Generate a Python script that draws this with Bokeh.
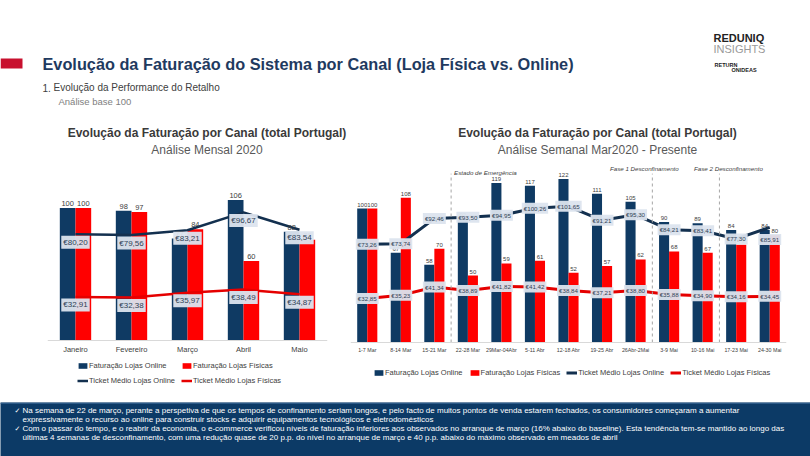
from bokeh.plotting import figure
from bokeh.models import Range1d, ColumnDataSource, Legend, LegendItem, FixedTicker
from bokeh.layouts import column, row
from bokeh.transform import dodge
from bokeh.embed import file_html
from bokeh.resources import INLINE
from bokeh.core.properties import value

# ---------------- data ----------------
months = ["Janeiro", "Fevereiro", "Março", "Abril", "Maio"]
m_fat_online = [100, 98, 77, 106, 82]
m_fat_fisicas = [100, 97, 84, 60, 76]
m_ticket_online = [80.20, 79.56, 83.21, 96.67, 83.54]
m_ticket_fisicas = [32.91, 32.38, 35.97, 38.49, 34.87]

weeks = ["1-7 Mar", "8-14 Mar", "15-21 Mar", "22-28 Mar", "29Mar-04Abr", "5-11 Abr",
         "12-18 Abr", "19-25 Abr", "26Abr-2Mai", "3-9 Mai", "10-16 Mai", "17-23 Mai", "24-30 Mai"]
w_fat_online = [100, 67, 58, 92, 119, 117, 122, 111, 105, 90, 89, 84, 84]
w_fat_fisicas = [100, 108, 70, 50, 59, 61, 52, 57, 62, 68, 67, 73, 80]
w_ticket_online = [73.26, 73.74, 92.46, 93.50, 94.95, 100.26, 101.65, 91.21, 95.30, 84.21, 83.41, 77.30, 85.91]
w_ticket_fisicas = [32.85, 35.23, 41.34, 38.89, 41.82, 41.42, 38.84, 37.21, 38.80, 35.88, 34.90, 34.16, 34.45]

phase_starts = ["22-28 Mar", "3-9 Mai", "17-23 Mai"]
phase_names = ["Estado de Emergência", "Fase 1 Desconfinamento", "Fase 2 Desconfinamento"]

series_names = ["Faturação Lojas Online", "Faturação Lojas Físicas",
                "Ticket Médio Lojas Online", "Ticket Médio Lojas Físicas"]

slide_title = "Evolução da Faturação do Sistema por Canal (Loja Física vs. Online)"
section = "Evolução da Performance do Retalho"
section_note = "Análise base 100"
chart_title = "Evolução da Faturação por Canal (total Portugal)"
left_subtitle = "Análise Mensal 2020"
right_subtitle = "Análise Semanal Mar2020 - Presente"
notes = [
    ("✓", "Na semana de 22 de março, perante a perspetiva de que os tempos de confinamento seriam longos, e pelo facto de muitos pontos de venda estarem fechados, os consumidores começaram a aumentar"),
    ("", "expressivamente o recurso ao online para construir stocks e adquirir equipamentos tecnológicos e eletrodomésticos"),
    ("✓", "Com o passar do tempo, e o reabrir da economia, o e-commerce verificou níveis de faturação inferiores aos observados no arranque de março (16% abaixo do baseline). Esta tendência tem-se mantido ao longo das"),
    ("", "últimas 4 semanas de desconfinamento, com uma redução quase de 20 p.p. do nível no arranque de março e 40 p.p. abaixo do máximo observado em meados de abril"),
]

# ---------------- style ----------------
FONT = "Liberation Sans"
NAVY = "#0f3a63"
RED = "#ff0000"
LNAVY = "#13304f"
LRED = "#e50000"
BOX = "#dce4ee"
TXT = "#404040"
FOOT = "#0c3a66"


def eur(v):
    return "€" + f"{v:.2f}".replace(".", ",")


def make_chart(cats, fo, ff, to, tf, width, height, bl, br, base_px, px_per_unit,
               bar_w, cat_fs, val_fs, tick_fs, tick_dy, line_w, leg_loc, leg_cols,
               nudges=None, bb=16):
    """base_px: distance in pixels from figure top to the bars' baseline."""
    nudges = nudges or {}
    n = len(cats)
    idx = list(range(n))
    frame_h = height - bb
    y_end = base_px / px_per_unit
    y_start = -(frame_h - base_px) / px_per_unit
    src = ColumnDataSource(dict(
        x=idx, fo=fo, ff=ff, to=to, tf=tf,
        fo_l=[str(v) for v in fo], ff_l=[str(v) for v in ff],
        to_l=[eur(v) for v in to], tf_l=[eur(v) for v in tf],
        to_dy=[tick_dy + nudges.get(c, 0) for c in cats],
    ))
    p = figure(width=width, height=height, x_range=Range1d(-0.5, n - 0.5),
               y_range=Range1d(y_start, y_end),
               output_backend="svg", toolbar_location=None,
               min_border_left=bl, min_border_right=br, min_border_top=0, min_border_bottom=bb,
               outline_line_color=None)
    p.grid.visible = False
    p.yaxis.visible = False
    ax = p.xaxis[0]
    ax.fixed_location = 0
    ax.ticker = FixedTicker(ticks=idx)
    ax.major_label_overrides = {i: c for i, c in enumerate(cats)}
    ax.major_tick_line_color = None
    ax.minor_tick_line_color = None
    ax.major_tick_out = 0
    ax.major_tick_in = 0
    ax.axis_line_color = "#d9d9d9"
    ax.major_label_text_font = FONT
    ax.major_label_text_font_size = cat_fs
    ax.major_label_text_color = TXT
    ax.major_label_standoff = 4

    r_fo = p.vbar(x=dodge('x', -bar_w / 2), top='fo', width=bar_w, source=src,
                  fill_color=NAVY, line_color=None)
    r_ff = p.vbar(x=dodge('x', bar_w / 2), top='ff', width=bar_w, source=src,
                  fill_color=RED, line_color=None)
    r_to = p.line('x', 'to', source=src, line_color=LNAVY, line_width=line_w)
    r_tf = p.line('x', 'tf', source=src, line_color=LRED, line_width=line_w)

    for xcol, ycol, tcol in ((dodge('x', -bar_w / 2), 'fo', 'fo_l'), (dodge('x', bar_w / 2), 'ff', 'ff_l')):
        p.text(x=xcol, y=ycol, text=tcol, source=src, text_align='center', text_baseline='bottom',
               y_offset=-2, text_font=value(FONT), text_font_size=val_fs, text_color=TXT)
    p.text(x='x', y='to', text='to_l', source=src, text_align='center', text_baseline='middle',
           y_offset='to_dy', text_font=value(FONT), text_font_size=tick_fs, text_color="#2f3f55",
           background_fill_color=BOX, background_fill_alpha=0.95, padding=2)
    p.text(x='x', y='tf', text='tf_l', source=src, text_align='center', text_baseline='middle',
           y_offset=tick_dy, text_font=value(FONT), text_font_size=tick_fs, text_color="#2f3f55",
           background_fill_color=BOX, background_fill_alpha=0.95, padding=2)

    leg = Legend(items=[LegendItem(label=series_names[i], renderers=[r])
                        for i, r in enumerate([r_fo, r_ff, r_to, r_tf])],
                 location=leg_loc, orientation="horizontal", ncols=leg_cols,
                 glyph_width=11, glyph_height=7, label_height=9, label_standoff=1,
                 spacing=6, padding=0, margin=0, border_line_color=None,
                 background_fill_alpha=0, label_text_font=FONT,
                 label_text_font_size="7.5px", label_text_color=TXT)
    p.add_layout(leg)
    return p


# ---------------- header ----------------
hdr = figure(width=810, height=160, x_range=Range1d(0, 810), y_range=Range1d(160, 0),
             output_backend="svg", toolbar_location=None, min_border=0,
             x_axis_location=None, y_axis_location=None, outline_line_color=None)
hdr.grid.visible = False
hdr.quad(left=[0], right=[22], top=[58], bottom=[68], fill_color="#c8102e", line_color=None)
hdr.text(x=[42], y=[63], text=[slide_title], text_font=value(FONT), text_font_style="bold",
         text_font_size="16.3px", text_color="#1f3a5f", text_baseline="middle")
hdr.text(x=[42, 53], y=[87, 87], text=["1.", section], text_font=value(FONT),
         text_font_size="10px", text_color=TXT, text_baseline="middle")
hdr.text(x=[58], y=[101], text=[section_note], text_font=value(FONT),
         text_font_size="9.5px", text_color="#808080", text_baseline="middle")
hdr.text(x=[713], y=[37], text=["REDUNIQ"], text_font=value(FONT), text_font_style="bold",
         text_font_size="11px", text_color="#222222", text_baseline="middle")
hdr.text(x=[713], y=[48], text=["INSIGHTS"], text_font=value(FONT),
         text_font_size="11px", text_color="#9a9a9a", text_baseline="middle")
hdr.text(x=[714, 731], y=[64, 69], text=["RETURN", "ONIDEAS"], text_font=value(FONT),
         text_font_style="bold", text_font_size="5.5px", text_color="#222222", text_baseline="middle")
hdr.text(x=[206.5, 597], y=[132, 132], text=[chart_title, chart_title], text_font=value(FONT),
         text_font_style="bold", text_font_size="12px", text_color="#3a3a3a",
         text_align="center", text_baseline="middle")
hdr.text(x=[206.5, 597], y=[149, 149], text=[left_subtitle, right_subtitle], text_font=value(FONT),
         text_font_size="12px", text_color="#595959", text_align="center", text_baseline="middle")

# ---------------- charts ----------------
left = make_chart(months, m_fat_online, m_fat_fisicas, m_ticket_online, m_ticket_fisicas,
                  width=345, height=242, bl=47, br=18, base_px=180, px_per_unit=1.325,
                  bar_w=0.28, cat_fs="7.5px", val_fs="7.5px", tick_fs="8px", tick_dy=8,
                  line_w=2.5, leg_loc=(30, 1.5), leg_cols=2)

right = make_chart(weeks, w_fat_online, w_fat_fisicas, w_ticket_online, w_ticket_fisicas,
                   width=465, height=242, bl=5, br=24, base_px=182, px_per_unit=1.34,
                   bar_w=0.3, cat_fs="5.3px", val_fs="6px", tick_fs="6.2px", tick_dy=0,
                   line_w=3, leg_loc=(23, 9.5), leg_cols=4,
                   nudges={"24-30 Mai": 12})

ph_x = [weeks.index(w) - 0.5 for w in phase_starts]
PH_TOP = 126
right.segment(x0=ph_x, y0=[0] * 3, x1=ph_x, y1=[PH_TOP] * 3, line_dash="3 3",
              line_color="#a6a6a6", line_width=1)
right.text(x=ph_x[:1], y=[PH_TOP + 1], text=phase_names[:1], x_offset=3, text_align="left",
           text_baseline="middle", text_font=value(FONT), text_font_style="italic",
           text_font_size="6.2px", text_color=TXT)
for px_, name, dx in zip(ph_x[1:], phase_names[1:], (-8, 9)):
    right.text(x=[px_], y=[PH_TOP + 4], text=[name], x_offset=dx, text_align="center",
               text_baseline="middle", text_font=value(FONT), text_font_style="italic",
               text_font_size="6.2px", text_color=TXT)

# ---------------- footer ----------------
foot = figure(width=810, height=54, x_range=Range1d(0, 810), y_range=Range1d(456, 402),
              output_backend="svg", toolbar_location=None, min_border=0,
              x_axis_location=None, y_axis_location=None, outline_line_color=None,
              background_fill_color=FOOT, border_fill_color=FOOT)
foot.grid.visible = False
foot.quad(left=[0], right=[810], top=[402], bottom=[403.5], fill_color="#2c5a88", line_color=None)
line_y = [410, 419, 428, 437]
foot.text(x=[14] * 4, y=line_y, text=[m for m, _ in notes], text_font=value("DejaVu Sans"),
          text_font_size="7px", text_color="white", text_baseline="middle")
foot.text(x=[22] * 4, y=line_y, text=[t for _, t in notes], text_font=value(FONT),
          text_font_size="8px", text_color="white", text_baseline="middle")

layout = column(hdr, row(left, right), foot)
open("out.html", "w").write(file_html(layout, INLINE))
